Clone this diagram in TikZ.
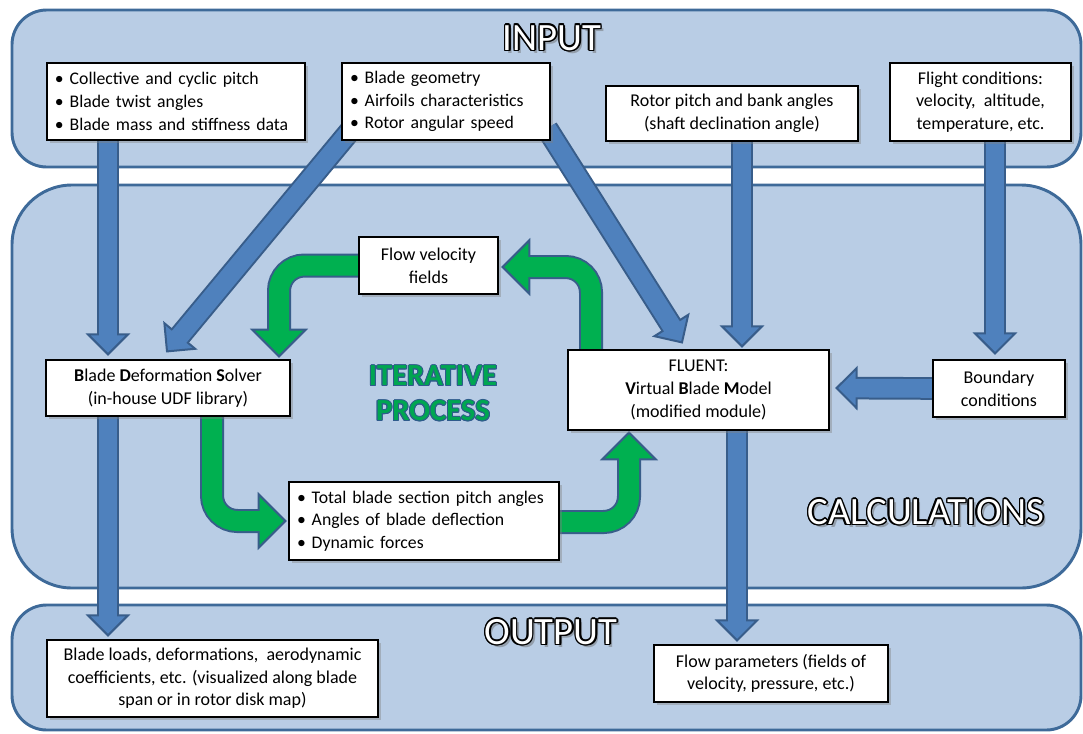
\documentclass[tikz,border=0pt]{standalone}
\usepackage{fontspec}
\setmainfont{Carlito}
\usetikzlibrary{calc,shadows}
\definecolor{panelfill}{HTML}{B9CDE5}
\definecolor{panelline}{HTML}{3E6A99}
\definecolor{bluearrow}{HTML}{4F81BD}
\definecolor{arrowline}{HTML}{385D8A}
\definecolor{greenarrow}{HTML}{00B050}
\definecolor{itergreen}{HTML}{00A651}
\definecolor{iterline}{HTML}{2F5B8C}
\pgfdeclarelayer{back}
\pgfdeclarelayer{mid}
\pgfsetlayers{back,mid,main}
% #1 fill, #2 inner shaft width, #3 outer shaft width, #4 head half width,
% #5 head length, #6 path prefix, #7 last point before head, #8 tip
\newcommand\fatarrow[8]{%
  \coordinate (fa-base) at ($#8!#5!#7$);
  \coordinate (fa-in) at ($(fa-base)!1.6pt!#8$);
  \draw[line width=#3, draw=arrowline, rounded corners=19pt] #6 #7 -- (fa-base);
  \filldraw[fill=#1, draw=arrowline, line width=1.5pt, line join=miter]
    ($(fa-base)!#4!90:#8$) -- #8 -- ($(fa-base)!#4!-90:#8$) -- cycle;
  \draw[line width=#2, draw=#1, rounded corners=19pt] #6 #7 -- (fa-in);
}
% #1 name, #2 position, #3 font, #4 text colour, #5 ring colour, #6 ring radius, #7 text
\newcommand\ringtext[7]{%
  \foreach \a in {0,30,...,330}{\node[font=#3, text=#5, inner sep=0pt] at ($#2+(\a:#6)$) {#7};}
  \node[font=#3, text=#4, inner sep=0pt] (#1) at #2 {#7};
}
\newcommand\headtext[3]{%
  \node[font=\fontsize{29}{31}\selectfont, text=black!60, opacity=0.45, inner sep=0pt] (#1-sh) at ($#2+(3,3)$) {#3};
  \ringtext{#1}{#2}{\fontsize{29}{31}\selectfont}{white}{black}{1.1pt}{#3}
}
\begin{document}
\hyphenpenalty=10000
\begin{tikzpicture}[x=0.75pt,y=-0.75pt,
  panel/.style={fill=panelfill, draw=panelline, line width=2.2pt},
  box/.style={draw=black, line width=0.9pt, fill=white, inner xsep=8pt, inner ysep=2pt,
    font=\fontsize{13.5}{17}\selectfont,
    drop shadow={shadow xshift=2pt, shadow yshift=-2pt, opacity=0.4}},
  lbox/.style={box, align=left, inner xsep=6pt, font=\fontsize{13.3}{17}\selectfont},
  cbox/.style={box, align=center},
  ]
\useasboundingbox (0,0) rectangle (1083,733);
\clip (0,0) rectangle (1083,733);

\begin{pgfonlayer}{back}
  \draw[panel, rounded corners=26pt] (12,10) rectangle (1081,167);
  \draw[panel, rounded corners=45pt] (12,185) rectangle (1081,588);
  \draw[panel, rounded corners=26pt] (12,605) rectangle (1081,730);
\end{pgfonlayer}

% boxes
\node[lbox, minimum width=193.5pt, minimum height=57.75pt, text width=181.5pt] (inA) at (176,101.5)
  {• Collective and cyclic pitch\\• Blade twist angles\\• Blade mass and stiffness data};
\node[lbox, minimum width=156pt, minimum height=57.75pt, text width=144pt] (inB) at (446,101.5)
  {• Blade geometry\\• Airfoils characteristics\\• Rotor angular speed};
\node[cbox, minimum width=189pt, minimum height=41.25pt] (inC) at (732,113.5)
  {Rotor pitch and bank angles\\(shaft declination angle)};
\node[cbox, minimum width=135.75pt, minimum height=58.5pt] (inD) at (980.5,102)
  {Flight conditions:\\velocity,\ \ altitude,\\temperature, etc.};
\node[cbox, minimum width=104.25pt, minimum height=42.75pt] (fvf) at (428.5,265.5)
  {Flow velocity\\fields};
\node[cbox, minimum width=183pt, minimum height=42pt] (bds) at (168,388)
  {\textbf{B}lade \textbf{D}eformation \textbf{S}olver\\(in-house UDF library)};
\node[cbox, minimum width=195.75pt, minimum height=60pt] (fl) at (698.5,390)
  {FLUENT:\\\textbf{V}irtual \textbf{B}lade \textbf{M}odel\\(modified module)};
\node[cbox, minimum width=99pt, minimum height=42.75pt] (bc) at (999,388.5)
  {Boundary\\conditions};
\node[lbox, minimum width=202.5pt, minimum height=58.5pt, text width=190.5pt] (bul) at (424,521)
  {• Total blade section pitch angles\\• Angles of blade deflection\\• Dynamic forces};
\node[cbox, minimum width=248.25pt, minimum height=57.75pt] (outL) at (212.5,678.5)
  {Blade loads, deformations,\ \ aerodynamic\\coefficients, etc. (visualized along blade\\span or in rotor disk map)};
\node[cbox, minimum width=175.5pt, minimum height=42.75pt] (outR) at (771,673.5)
  {Flow parameters (fields of\\velocity, pressure, etc.)};

% headings
\headtext{hin}{(552,38)}{INPUT}
\headtext{hout}{(551,632)}{OUTPUT}
\headtext{hcalc}{(926,512)}{CALCULATIONS}
\ringtext{iter1}{(433,376)}{\bfseries\fontsize{23}{25}\selectfont}{itergreen}{iterline}{0.75pt}{ITERATIVE}
\ringtext{iter2}{(433,411)}{\bfseries\fontsize{23}{25}\selectfont}{itergreen}{iterline}{0.75pt}{PROCESS}

\begin{pgfonlayer}{mid}
  % blue arrows
  \fatarrow{bluearrow}{14pt}{17pt}{15pt}{15pt}{}{($(inA.south)+(-68,-5)$)}{($(bds.north)+(-60,-5)$)}
  \fatarrow{bluearrow}{14pt}{17pt}{15pt}{15pt}{}{($(inB.south)+(-94,-12)$)}{($(bds.north)+(-1,-8)$)}
  \fatarrow{bluearrow}{14pt}{17pt}{15pt}{15pt}{}{($(inB.south)+(101,-12)$)}{($(fl.north)+(-16.5,-7)$)}
  \fatarrow{bluearrow}{14pt}{17pt}{15pt}{15pt}{}{($(inC.south)+(10,-6)$)}{($(fl.north)+(43.5,-3)$)}
  \fatarrow{bluearrow}{14pt}{17pt}{15pt}{15pt}{}{($(inD.south)+(14.5,-6)$)}{($(bc.north)+(-4,-6)$)}
  \fatarrow{bluearrow}{14pt}{17pt}{15pt}{15pt}{}{($(bc.west)+(7,0)$)}{($(fl.east)+(7,-2)$)}
  \fatarrow{bluearrow}{14pt}{17pt}{15pt}{15pt}{}{($(bds.south)+(-60,-6)$)}{($(outL.north)+(-104.5,-4)$)}
  \fatarrow{bluearrow}{14pt}{17pt}{15pt}{15pt}{}{($(fl.south)+(38.5,-5)$)}{($(outR.north)+(-34,-4)$)}
  % green arrows
  \coordinate (g1s) at ($(fvf.west)+(3,0)$);
  \coordinate (g1t) at ($(bds.north)+(111,-3)$);
  \coordinate (g1c) at (g1t |- g1s);
  \fatarrow{greenarrow}{15pt}{18pt}{20pt}{20pt}{(g1s) --}{(g1c)}{(g1t)}
  \coordinate (g2s) at ($(fl.north)+(-107.5,3)$);
  \coordinate (g2t) at ($(fvf.east)+(4,1.5)$);
  \coordinate (g2c) at (g2s |- g2t);
  \fatarrow{greenarrow}{15pt}{18pt}{20pt}{20pt}{(g2s) --}{(g2c)}{(g2t)}
  \coordinate (g3s) at ($(bds.south)+(44,-3)$);
  \coordinate (g3t) at ($(bul.west)+(-3,0)$);
  \coordinate (g3c) at (g3s |- g3t);
  \fatarrow{greenarrow}{15pt}{18pt}{20pt}{20pt}{(g3s) --}{(g3c)}{(g3t)}
  \coordinate (g4s) at ($(bul.east)+(-3,1)$);
  \coordinate (g4t) at ($(fl.south)+(-69.5,2)$);
  \coordinate (g4c) at (g4t |- g4s);
  \fatarrow{greenarrow}{15pt}{18pt}{20pt}{20pt}{(g4s) --}{(g4c)}{(g4t)}
\end{pgfonlayer}
\end{tikzpicture}
\end{document}
